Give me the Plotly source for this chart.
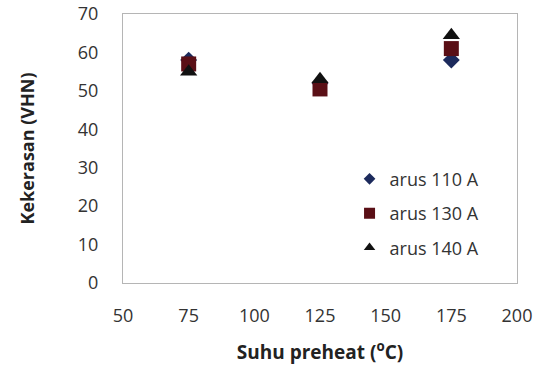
import plotly.graph_objects as go

# Preheat temperatures (°C)
suhu = [75, 125, 175]

# Hardness (VHN) per welding current
arus_110 = [58, 52, 58]
arus_130 = [57, 50.5, 61]
arus_140 = [55, 53, 64.5]

series_names = ["arus 110 A", "arus 130 A", "arus 140 A"]
x_ticks = [50, 75, 100, 125, 150, 175, 200]
y_ticks = [0, 10, 20, 30, 40, 50, 60, 70]

font_family = "Open Sans, Liberation Sans, sans-serif"

fig = go.Figure()
styles = [
    (arus_110, "diamond", "#1c2a5c", 13, 9),
    (arus_130, "square", "#5a0f16", 15, 11),
    (arus_140, "triangle-up", "#111111", 15, 10),
]
for name, (vals, sym, col, size, leg_size) in zip(series_names, styles):
    # data markers
    fig.add_trace(go.Scatter(
        x=suhu, y=vals, mode="markers", name=name, showlegend=False,
        marker=dict(symbol=sym, color=col, size=size, line=dict(width=0)),
    ))
    # smaller legend swatch
    fig.add_trace(go.Scatter(
        x=[None], y=[None], mode="markers", name=name, legendgroup=name,
        marker=dict(symbol=sym, color=col, size=leg_size, line=dict(width=0)),
    ))

fig.update_layout(
    width=538, height=369,
    margin=dict(l=123, r=21, t=14, b=86, autoexpand=False),
    paper_bgcolor="white", plot_bgcolor="white",
    font=dict(family=font_family, size=18, color="#333333"),
    showlegend=True,
    legend=dict(
        x=0.575, y=0.455, xanchor="left", yanchor="top",
        bgcolor="rgba(0,0,0,0)", font=dict(size=18, color="#333333"),
        tracegroupgap=8, itemwidth=30,
    ),
    xaxis=dict(
        range=[50, 200], tickvals=x_ticks, showgrid=False, zeroline=False,
        showline=True, linecolor="#b5b5b5", linewidth=1, mirror=True,
        ticks="", ticklabelstandoff=16,
        title=dict(text="<b>Suhu preheat (<sup>o</sup>C)</b>", standoff=20,
                   font=dict(size=19, color="#222222")),
    ),
    yaxis=dict(
        range=[0, 70], tickvals=y_ticks, showgrid=False, zeroline=False,
        showline=True, linecolor="#b5b5b5", linewidth=1, mirror=True,
        ticks="", ticklabelstandoff=20,
        title=dict(text="<b>Kekerasan (VHN)</b>", standoff=38,
                   font=dict(size=18, color="#222222")),
    ),
)

fig.write_html("out.html")
